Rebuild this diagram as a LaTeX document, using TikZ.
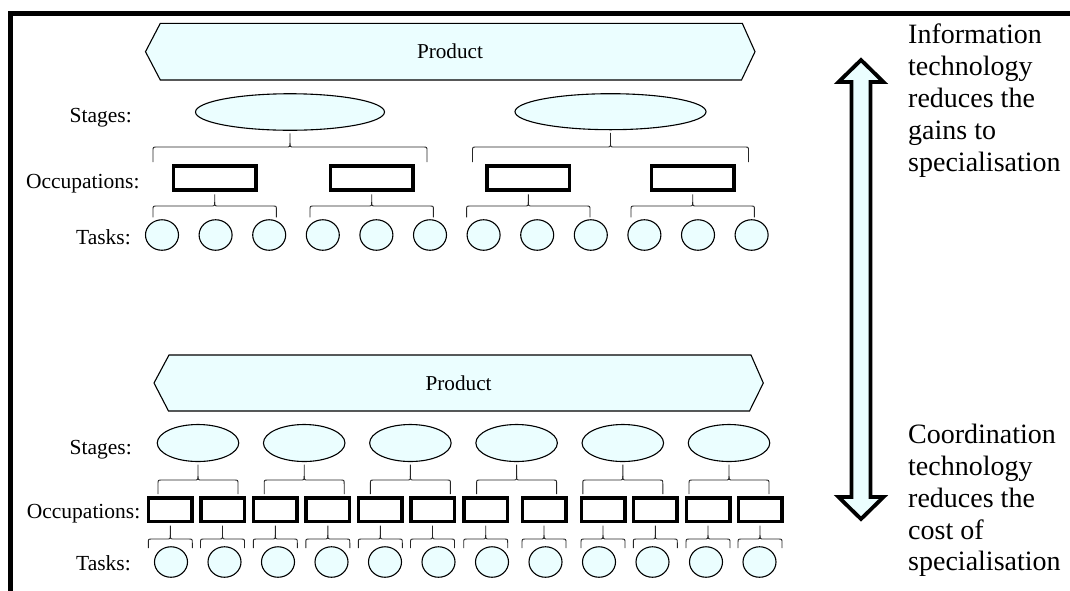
\documentclass[tikz,border=0pt]{standalone}
\usepackage{fontspec}
\setmainfont{Liberation Serif}
\usetikzlibrary{calc,shapes.geometric}
\definecolor{paleC}{RGB}{235,254,255}
\tikzset{
  thinline/.style={line width=1.1pt, draw=black},
  stagebox/.style={ellipse, thinline, fill=paleC, inner sep=0pt},
  occbox/.style={rectangle, draw=black, line width=3.5pt, fill=white, inner sep=0pt, minimum width=82.5pt, minimum height=24pt},
  occsmall/.style={occbox, minimum width=43.5pt, minimum height=23.5pt},
  taskbox/.style={ellipse, thinline, fill=paleC, inner sep=0pt, minimum width=33pt, minimum height=30.5pt},
  banner/.style={thinline, fill=paleC, line join=miter},
  brc/.style={line width=0.9pt, draw=black!85},
  lbl/.style={font=\fontsize{21.5}{25}\selectfont, inner sep=0pt, anchor=base east},
  prodtext/.style={font=\fontsize{21.2}{25}\selectfont, inner sep=0pt},
  sidetext/.style={font=\fontsize{28}{31.8}\selectfont, inner sep=0pt, anchor=north west, align=left},
  bigarrow/.style={draw=black, line width=3.8pt, fill=paleC, line join=miter}
}
% brace under parent node #1: half width #2, horizontal line y #3, end y #4
\newcommand\mybrace[4]{%
  \coordinate (bc) at (#1.south |- 0,#3);
  \draw[brc] ($(bc)+(-#2,#4-#3)$) -- ($(bc)+(-#2,4)$) .. controls ($(bc)+(-#2,0)$) .. ($(bc)+(-#2+4,0)$)
     -- ($(bc)+(-4,0)$) .. controls (bc) .. ($(bc)+(0,-4)$) -- ([yshift=-2.5pt]#1.south);
  \draw[brc] ($(bc)+(0,-4)$) .. controls (bc) .. ($(bc)+(4,0)$)
     -- ($(bc)+(#2-4,0)$) .. controls ($(bc)+(#2,0)$) .. ($(bc)+(#2,4)$) -- ($(bc)+(#2,#4-#3)$);
}
\begin{document}
\begin{tikzpicture}[x=1pt,y=-1pt]
\useasboundingbox (0,0) rectangle (1070,590);
% frame
\draw[line width=5pt] (10,600) -- (10,13.5) -- (1080,13.5);

% ===== top configuration =====
\draw[banner] (145.5,51.7) -- (160.3,23.3) -- (742.3,23.3) -- (755,51.7) -- (741.5,80) -- (160.3,80) -- cycle;
\node[prodtext] (prodA) at (450,51.7) {Product};

\node[lbl] (lsA) at (132,122) {Stages:};
\node[lbl] (loA) at (139.7,188.5) {Occupations:};
\node[lbl] (ltA) at (131,244) {Tasks:};

\node[stagebox, minimum width=189pt, minimum height=36.5pt] (sA1) at (290,112) {};
\node[stagebox, minimum width=191pt, minimum height=36pt] (sA2) at (610.5,111.7) {};

\node[occbox] (oA1) at (214.7,178) {};
\node[occbox] (oA2) at (371.7,178) {};
\node[occbox] (oA3) at (528.3,178) {};
\node[occbox] (oA4) at (692.7,178) {};

\foreach \i in {1,...,12} {
  \node[taskbox] (tA\i) at ({162+53.6*(\i-1)},235) {};
}

\mybrace{sA1}{137}{147}{162}
\mybrace{sA2}{138}{147}{162}
\foreach \i in {1,...,4} { \mybrace{oA\i}{61.7}{206}{217.3} }

% ===== bottom configuration =====
\draw[banner] (154,383) -- (169,355) -- (751,355) -- (763.3,383) -- (749.5,411) -- (168.5,411) -- cycle;
\node[prodtext] (prodB) at (458.6,383) {Product};

\node[lbl] (lsB) at (132,454) {Stages:};
\node[lbl] (loB) at (140.5,518) {Occupations:};
\node[lbl] (ltB) at (131,570) {Tasks:};

\foreach \i in {1,...,6} {
  \node[stagebox, minimum width=81.5pt, minimum height=37pt] (sB\i) at ({198+106.2*(\i-1)},443) {};
}
\foreach \x [count=\i] in {170.3,222.5,275.3,327.8,380.3,432.5,485.7,544,603,655.3,708,760} {
  \node[occsmall] (oB\i) at (\x,509.5) {};
}
\foreach \i in {1,...,12} {
  \node[taskbox] (tB\i) at ({171+53.5*(\i-1)},562) {};
}
\foreach \i in {1,...,6} { \mybrace{sB\i}{40}{480}{494} }
\foreach \i in {1,...,12} { \mybrace{oB\i}{22}{539}{548} }

% ===== double arrow =====
\draw[bigarrow] (861,60) -- (883.5,82) -- (870.5,82) -- (870.5,497) -- (883.5,497) -- (861,519)
   -- (838.5,497) -- (851.5,497) -- (851.5,82) -- (838.5,82) -- cycle;

% ===== side texts =====
\node[sidetext] (infoText) at (908,24) {Information\\technology\\reduces the\\gains to\\specialisation};
\node[sidetext] (coordText) at (908,424) {Coordination\\technology\\reduces the\\cost of\\specialisation};
\end{tikzpicture}
\end{document}
